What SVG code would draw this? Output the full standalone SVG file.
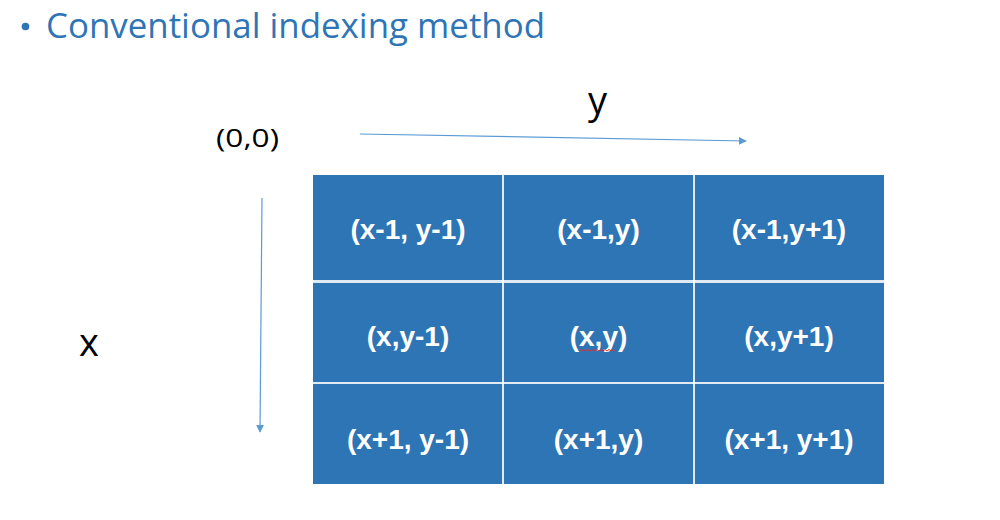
<svg xmlns="http://www.w3.org/2000/svg" width="1000" height="520" viewBox="0 0 1000 520">
<defs>
<marker id="ah" viewBox="0 0 10 10" refX="9" refY="5" markerWidth="8" markerHeight="8" markerUnits="userSpaceOnUse" orient="auto">
<path d="M0,0 L10,5 L0,10 Z" fill="#5B9BD5"/>
</marker>
<style>
.cell{fill:#2E75B6}
.ct{font-family:"Liberation Sans",Arial,sans-serif;font-weight:bold;font-size:28px;fill:#fff;text-anchor:middle}
.lbl{font-family:"Open Sans","Liberation Sans",sans-serif;fill:#000}
.conn{stroke:#5B9BD5;stroke-width:1.2;fill:none;marker-end:url(#ah)}
</style>
</defs>
<rect width="1000" height="520" fill="#fff"/>
<g id="title">
<circle cx="25.5" cy="26.5" r="3.8" fill="#2E75B6"/>
<text x="46" y="38" font-family="'Open Sans','Liberation Sans',sans-serif" font-size="34" fill="#2E75B6" textLength="499" lengthAdjust="spacingAndGlyphs">Conventional indexing method</text>
</g>
<g id="labels">
<text class="lbl" x="216" y="147" font-size="25" textLength="63" lengthAdjust="spacingAndGlyphs">(0,0)</text>
<text class="lbl" x="588" y="114" font-size="38">y</text>
<text class="lbl" x="79" y="356" font-size="38">x</text>
</g>
<g id="connectors">
<line class="conn" x1="360" y1="134" x2="746" y2="141"/>
<line class="conn" x1="262" y1="198" x2="260" y2="432"/>
</g>
<g id="grid">
<rect class="cell" x="313" y="175" width="571" height="309"/>
<g stroke="#fff" stroke-opacity="0.85">
<line x1="313" y1="281.5" x2="884" y2="281.5" stroke-width="3"/>
<line x1="313" y1="383" x2="884" y2="383" stroke-width="2"/>
<line x1="503" y1="175" x2="503" y2="484" stroke-width="2"/>
<line x1="694" y1="175" x2="694" y2="484" stroke-width="2"/>
</g>
</g>
<g id="c11"><text class="ct" x="408" y="239">(x-1, y-1)</text></g>
<g id="c12"><text class="ct" x="598.5" y="239">(x-1,y)</text></g>
<g id="c13"><text class="ct" x="789" y="239">(x-1,y+1)</text></g>
<g id="c21"><text class="ct" x="408" y="346">(x,y-1)</text></g>
<g id="c22"><text class="ct" x="598.5" y="346">(x,y)</text>
<path d="M579,351 l2,-1.5 l2,1.5 l2,-1.5 l2,1.5 l2,-1.5 l2,1.5 l2,-1.5 l2,1.5 l2,-1.5 l2,1.5 l2,-1.5 l2,1.5 l2,-1.5 l2,1.5 l2,-1.5 l2,1.5 l2,-1.5 l2,1.5" fill="none" stroke="#E03030" stroke-width="1"/></g>
<g id="c23"><text class="ct" x="789" y="346">(x,y+1)</text></g>
<g id="c31"><text class="ct" x="408" y="449">(x+1, y-1)</text></g>
<g id="c32"><text class="ct" x="598.5" y="449">(x+1,y)</text></g>
<g id="c33"><text class="ct" x="789" y="449">(x+1, y+1)</text></g>
</svg>
